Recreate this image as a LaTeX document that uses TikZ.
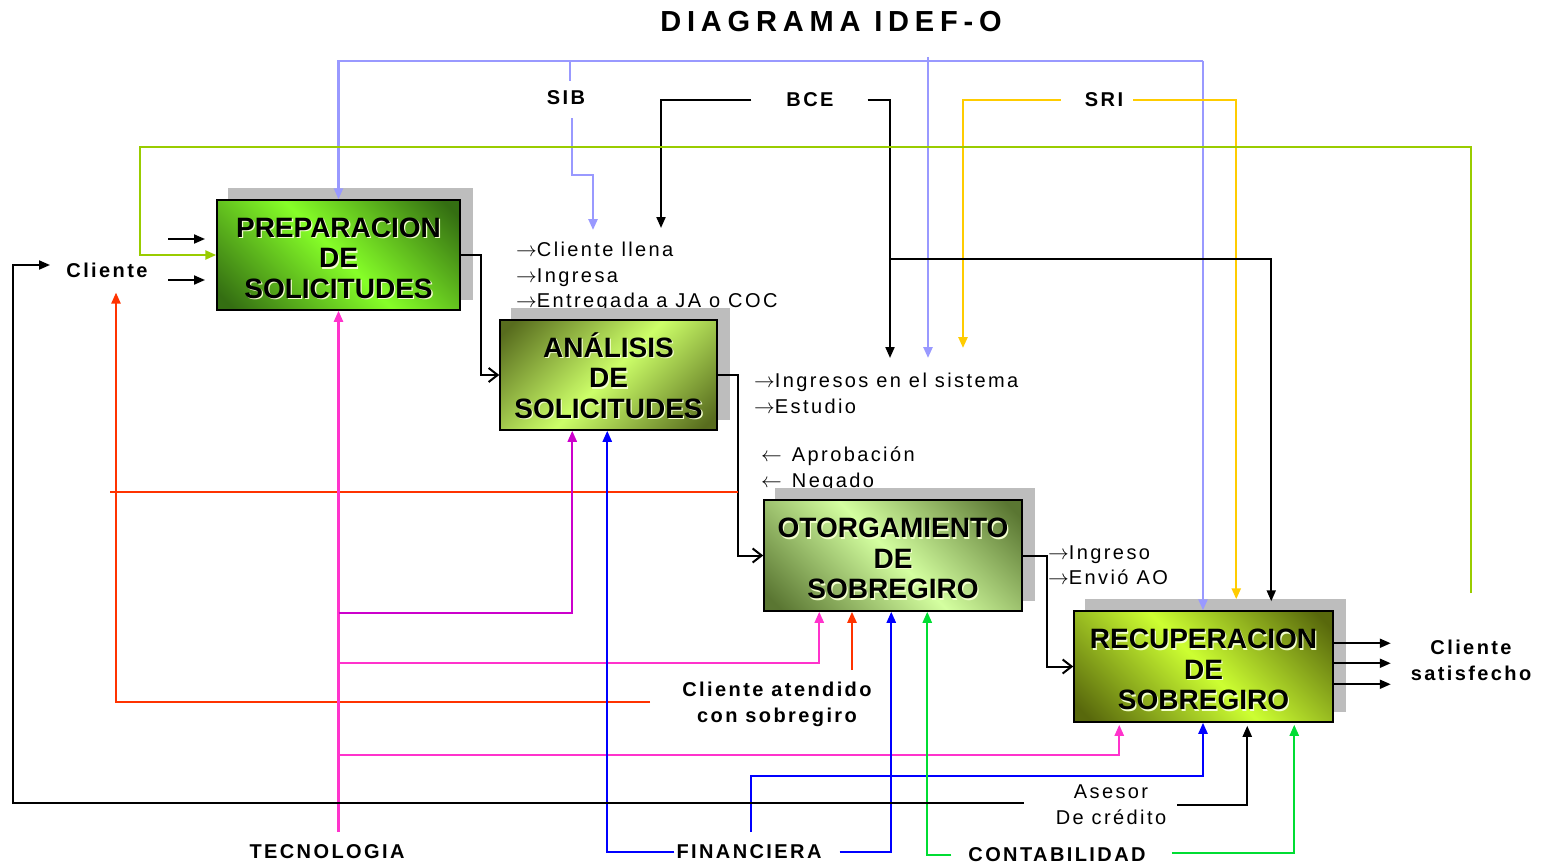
\documentclass[tikz,border=0pt]{standalone}
\usepackage{fontspec}
\setmainfont{Liberation Sans}
\newfontfamily\lblfont[LetterSpace=12]{Liberation Sans}
\newfontfamily\notefont[LetterSpace=12]{Liberation Sans}
\newfontfamily\ttlfont[LetterSpace=20]{Liberation Sans}
\usetikzlibrary{arrows.meta,calc}

% connector colours
\definecolor{lavC}{HTML}{9999FF}
\definecolor{ylwC}{HTML}{FFCC00}
\definecolor{limeC}{HTML}{99CC00}
\definecolor{redC}{HTML}{FF3300}
\definecolor{pinkC}{HTML}{FF33CC}
\definecolor{purpC}{HTML}{CC00CC}
\definecolor{blueC}{HTML}{0000FF}
\definecolor{grnC}{HTML}{00DD33}
\definecolor{shadeC}{HTML}{BDBDBD}
% process box colours (dark corner / bright band)
\definecolor{dkA}{RGB}{52,110,18}
\definecolor{brA}{RGB}{134,255,40}
\definecolor{dkB}{RGB}{88,108,30}
\definecolor{brB}{RGB}{205,255,105}
\definecolor{dkC}{RGB}{90,118,50}
\definecolor{brC}{RGB}{212,255,160}
\definecolor{dkD}{RGB}{88,104,12}
\definecolor{brD}{RGB}{205,255,50}

\pgfdeclarehorizontalshading{shA}{100bp}{color(0bp)=(dkA); color(18bp)=(dkA); color(50bp)=(brA); color(82bp)=(dkA); color(100bp)=(dkA)}
\pgfdeclarehorizontalshading{shB}{100bp}{color(0bp)=(dkB); color(18bp)=(dkB); color(50bp)=(brB); color(82bp)=(dkB); color(100bp)=(dkB)}
\pgfdeclarehorizontalshading{shC}{100bp}{color(0bp)=(dkC); color(18bp)=(dkC); color(50bp)=(brC); color(82bp)=(dkC); color(100bp)=(dkC)}
\pgfdeclarehorizontalshading{shD}{100bp}{color(0bp)=(dkD); color(18bp)=(dkD); color(50bp)=(brD); color(82bp)=(dkD); color(100bp)=(dkD)}

% box caption line with a light embossed edge
\newcommand\emb[1]{\rlap{\kern1.3pt\raisebox{-1.3pt}{\color{white!80!lime}#1}}#1}
% first caption line, with a strut that sets the block a little lower
\newcommand\embtop[1]{\rule{0pt}{27pt}\emb{#1}}
% arrows used in the notes
\newcommand\ra{\ensuremath{\rightarrow}}
\newcommand\la{\ensuremath{\leftarrow}}

\pgfdeclarelayer{notes}
\pgfdeclarelayer{shade}
\pgfsetlayers{notes,shade,main}

\begin{document}
\begin{tikzpicture}[x=1pt,y=-1pt,
  procbox/.style={draw=black, line width=1.5pt, minimum width=243pt, minimum height=110pt,
    inner sep=0pt, align=center, font=\bfseries\fontsize{28}{30.5}\selectfont},
  lbl/.style={font=\lblfont\bfseries\fontsize{20}{26}\selectfont, inner sep=2pt, align=center},
  note/.style={font=\notefont\fontsize{20}{26}\selectfont, inner sep=0pt, anchor=base west},
  filled/.style={-{Triangle[length=11pt,width=9pt]}},
  openhead/.style={-{Straight Barb[length=9pt,width=14pt]}},
  blkline/.style={draw=black, line width=2pt},
  flowline/.style={draw=black, line width=2pt},
  lavline/.style={draw=lavC, line width=2.4pt},
  ylwline/.style={draw=ylwC, line width=2.4pt},
  limeline/.style={draw=limeC, line width=2.4pt},
  redline/.style={draw=redC, line width=2.2pt},
  pinkline/.style={draw=pinkC, line width=2.2pt},
  purpline/.style={draw=purpC, line width=2.2pt},
  blueline/.style={draw=blueC, line width=2.2pt},
  grnline/.style={draw=grnC, line width=2.2pt},
  boxshadow/.style={fill=shadeC}
]
\useasboundingbox (0,0) rectangle (1547,867);

% ---------- title ----------
\node[font=\ttlfont\bfseries\fontsize{29}{30}\selectfont] (title) at (831,22) {DIAGRAMA IDEF-O};

% ---------- process boxes ----------
\node[procbox, shading=shA, shading angle=45]  (b1) at (338.5,255)  {\embtop{PREPARACION}\\\emb{DE}\\\emb{SOLICITUDES}};
\node[procbox, minimum width=217pt, shading=shB, shading angle=-45] (b2) at (608.5,375) {\embtop{ANÁLISIS}\\\emb{DE}\\\emb{SOLICITUDES}};
\node[procbox, minimum width=258pt, minimum height=111pt, shading=shC, shading angle=45] (b3) at (893,555.5) {\embtop{OTORGAMIENTO}\\\emb{DE}\\\emb{SOBREGIRO}};
\node[procbox, minimum width=259pt, minimum height=111pt, shading=shD, shading angle=45] (b4) at (1203.5,666.5) {\embtop{RECUPERACION}\\\emb{DE}\\\emb{SOBREGIRO}};

\begin{pgfonlayer}{shade}
  \foreach \b in {b1,b2,b3,b4}
    \fill[boxshadow] ([shift={(12,-11)}]\b.south west) rectangle ([shift={(12,-11)}]\b.north east);
\end{pgfonlayer}

% ---------- labels ----------
\node[lbl] (cliente) at (107,270) {Cliente};
\node[lbl] (sib) at (566,98) {SIB};
\node[lbl] (bce) at (810,100) {BCE};
\node[lbl] (sri) at (1104,100) {SRI};
\node[lbl] (satis) at (1471,660) {Cliente\\satisfecho};
\node[lbl] (atend) at (777,704) {Cliente atendido\\con sobregiro};
\node[lbl] (tecno) at (327,852) {TECNOLOGIA};
\node[lbl] (finan) at (749,852) {FINANCIERA};
\node[lbl] (conta) at (1057,855) {CONTABILIDAD};
\node[font=\notefont\fontsize{20}{26}\selectfont, inner sep=2pt, align=center] (asesor) at (1111,805) {Asesor\\De crédito};

% ---------- notes beside the flow ----------
\begin{pgfonlayer}{notes}
  \node[note] (n1) at (516,256) {\ra Cliente llena};
  \node[note] (n2) at (516,282) {\ra Ingresa};
  \node[note] (n3) at (516,307) {\ra Entregada a JA o COC};
  \node[note] (n4) at (754,387) {\ra Ingresos en el sistema};
  \node[note] (n5) at (754,413) {\ra Estudio};
  \node[note] (n6) at (761,461) {\la\hspace{10pt}Aprobación};
  \node[note] (n7) at (761,487) {\la\hspace{10pt}Negado};
  \node[note] (n8) at (1048,559) {\ra Ingreso};
  \node[note] (n9) at (1048,584) {\ra Envió AO};
\end{pgfonlayer}

% ---------- waypoints and free ends ----------
\coordinate (lavL) at (338.5,61);
\coordinate (lavR) at (1203,61);
\coordinate (sibTop) at (570,61);
\coordinate (sibTick) at (570,81);
\coordinate (sibLow) at (572,118);
\coordinate (sibStep) at (593,175);
\coordinate (sibEnd) at (593,230);
\coordinate (lavMidTop) at (928,57);
\coordinate (lavMidEnd) at (928,358);
\coordinate (sriEnd) at (963,348);
\coordinate (bceEndA) at (661,228);
\coordinate (bceEndB) at (890,358);
\coordinate (bceFork) at (890,259);
\coordinate (limeStart) at (1471,593);
\coordinate (limeTop) at (140,147);
\coordinate (inA) at (168,239);
\coordinate (inAend) at (205,239);
\coordinate (inB) at (168,280);
\coordinate (inBend) at (205,280);
\coordinate (redA) at (110,492);
\coordinate (redAend) at (738,492);
\coordinate (redB) at (650,702);
\coordinate (redC) at (852,670);
\coordinate (tecTop) at (338.5,832);
\coordinate (tecP) at (338.5,613);
\coordinate (tecQ) at (338.5,663);
\coordinate (tecR) at (338.5,755);
\coordinate (finStart) at (751,832);
\coordinate (finTurn) at (1203,776);
\coordinate (backLeft) at (13,265);
\coordinate (backEnd) at (50,265);

% ---------- controls from the top ----------
\draw[lavline,filled] (lavR) -- (lavL) -- (b1.north);
\draw[lavline,filled] (lavR) -- (lavR |- b4.north);
\draw[lavline] (sibTop) -- (sibTick);
\draw[lavline,filled] (sibLow) |- (sibStep) -- (sibEnd);
\draw[lavline,filled] (lavMidTop) -- (lavMidEnd);

\draw[ylwline,filled] ([xshift=-22pt]sri.west) -| (sriEnd);
\draw[ylwline,filled] ([xshift=8pt]sri.east) -| ($(b4.north west)+(163,-11)$);

\draw[blkline,filled] ([xshift=-33pt]bce.west) -| (bceEndA);
\draw[blkline,filled] ([xshift=32pt]bce.east) -| (bceEndB);
\draw[blkline,filled] (bceFork) -| ($(b4.north west)+(198,-9)$);

\draw[limeline,filled] (limeStart) |- (limeTop) |- (b1.west);

% ---------- inputs of the first box ----------
\draw[blkline,filled] (inA) -- (inAend);
\draw[blkline,filled] (inB) -- (inBend);

% ---------- main flow ----------
\draw[flowline,openhead] (b1.east) -- ++(20,0) |- (b2.west);
\draw[flowline,openhead] (b2.east) -- ++(20,0) |- (b3.west);
\draw[flowline,openhead] (b3.east) -- ++(24,0) |- (b4.west);

% ---------- red feedback ----------
\draw[redline] (redA) -- (redAend);
\draw[redline,filled] (redB) -| ($(cliente.south)+(9,13)$);
\draw[redline,filled] (redC) -- (redC |- b3.south);

% ---------- mechanisms: technology ----------
\draw[pinkline,filled] (tecTop) -- (b1.south);
\draw[pinkline,filled] (tecQ) -| ($(b3.south west)+(56,0)$);
\draw[pinkline,filled] (tecR) -| ($(b4.south west)+(46,2)$);
\draw[purpline,filled] (tecP) -| ($(b2.south west)+(73,0)$);

% ---------- mechanisms: finance ----------
\draw[blueline,filled] (finan.west) -| ($(b2.south west)+(108,0)$);
\draw[blueline,filled] ([xshift=16pt]finan.east) -| ($(b3.south west)+(128,0)$);
\draw[blueline,filled] (finStart) |- (finTurn) -- (finTurn |- b4.south);

% ---------- mechanisms: accounting ----------
\draw[grnline,filled] ([xshift=-15pt]conta.west) -| ($(b3.south west)+(164,0)$);
\draw[grnline,filled] ([xshift=24pt,yshift=2pt]conta.east) -| ($(b4.south west)+(221,2)$);

% ---------- credit adviser ----------
\draw[blkline,filled] ([xshift=-30pt,yshift=2pt]asesor.west) -| (backLeft) -- (backEnd);
\draw[blkline,filled] ([xshift=9pt]asesor.east) -| ($(b4.south west)+(174,3)$);

% ---------- outputs ----------
\draw[blkline,filled] ($(b4.north east)+(0,33)$) -- ++(57,0);
\draw[blkline,filled] ($(b4.north east)+(0,53)$) -- ++(57,0);
\draw[blkline,filled] ($(b4.north east)+(0,74)$) -- ++(57,0);
\end{tikzpicture}
\end{document}
